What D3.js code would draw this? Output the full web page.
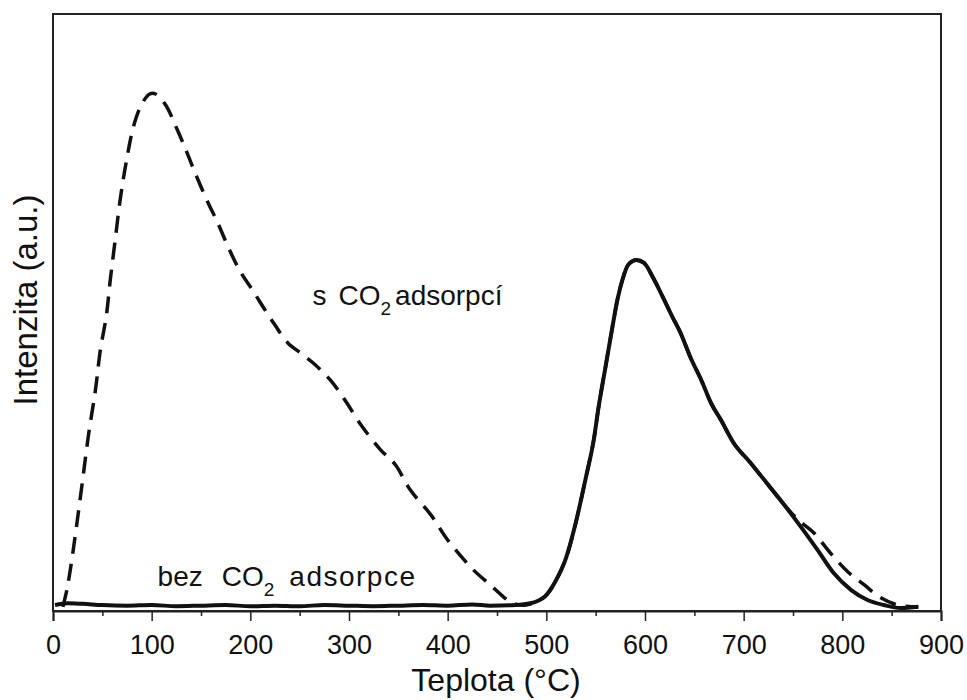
<!DOCTYPE html>
<html>
<head>
<meta charset="utf-8">
<script src="https://cdn.jsdelivr.net/npm/d3@7"></script>
<style>
  body { margin: 0; background: #fff; }
  svg { display: block; font-family: "Liberation Sans", Arial, sans-serif; }
</style>
</head>
<body>
<svg id="chart" width="967" height="700"></svg>
<script>
// temperature (°C) / intensity (a.u.)
const withCO2T = [10, 14, 19, 24, 30, 36, 43, 48, 54, 58, 63, 68, 74, 82, 90, 98, 104, 114, 126, 136, 144, 156, 167, 178, 190, 202, 215, 225, 238, 251, 264, 281, 296, 312, 332, 347, 362, 383, 400, 426, 443, 457, 466, 479,
  499, 509, 520, 530, 540, 548, 553, 560, 567, 572, 577, 583, 591, 599, 608, 618, 628, 636, 646, 657, 667, 677, 690, 707, 725, 741, 755, 771, 788, 806, 822, 839, 856, 877];
const withCO2I = [0.7, 3.5, 8.5, 14.4, 21.9, 29.5, 37.0, 43.7, 49.4, 55.4, 62.1, 68.8, 75.0, 81.4, 84.9, 86.6, 86.6, 84.8, 80.6, 76.7, 73.4, 68.8, 65.0, 60.8, 56.8, 53.8, 50.4, 47.9, 44.9, 43.2, 41.5, 38.7, 35.3, 31.2, 27.0, 24.5, 20.3, 16.1, 11.9, 6.9, 4.4, 2.3, 1.3, 1.0,
  2.5, 4.9, 8.9, 14.9, 22.3, 28.6, 34.2, 40.9, 47.6, 52.1, 55.4, 58.0, 58.8, 58.3, 55.9, 52.6, 49.2, 46.6, 42.5, 38.7, 34.8, 32.0, 28.1, 24.8, 21.1, 17.8, 15.3, 13.1, 9.7, 6.5, 4.4, 2.2, 1.0, 0.7];

const withoutCO2T = [2, 15, 30, 50, 75, 100, 125, 150, 175, 200, 225, 250, 275, 300, 325, 350, 375, 400, 425, 443, 469, 484,
  499, 509, 520, 530, 540, 548, 553, 560, 567, 572, 577, 583, 591, 599, 608, 618, 628, 636, 646, 657, 667, 677, 690, 707, 725, 741, 758, 775, 791, 809, 826, 842, 859, 877];
const withoutCO2I = [1.0, 1.3, 1.2, 1.0, 0.9, 1.0, 0.8, 0.9, 1.0, 0.8, 0.9, 0.8, 1.0, 0.9, 0.8, 0.9, 1.0, 0.9, 1.1, 0.9, 1.0, 1.3,
  2.5, 4.9, 8.9, 14.9, 22.3, 28.6, 34.2, 40.9, 47.6, 52.1, 55.4, 58.0, 58.8, 58.3, 55.9, 52.6, 49.2, 46.6, 42.5, 38.7, 34.8, 32.0, 28.1, 24.8, 21.1, 17.8, 14.1, 10.2, 6.4, 3.5, 1.8, 1.0, 0.5, 0.7];

const majorTicks = [0, 100, 200, 300, 400, 500, 600, 700, 800, 900];
const minorTicks = [50, 150, 250, 350, 450, 550, 650, 750, 850];

const svg = d3.select("#chart");
const plotLeft = 53, plotRight = 941, plotTop = 14, plotBottom = 611;

const x = d3.scaleLinear().domain([0, 900]).range([plotLeft, plotRight]);
const y = d3.scaleLinear().domain([0, 100]).range([plotBottom, plotTop]);

// frame
svg.append("rect")
  .attr("x", plotLeft).attr("y", plotTop)
  .attr("width", plotRight - plotLeft).attr("height", plotBottom - plotTop)
  .attr("fill", "none").attr("stroke", "#222").attr("stroke-width", 2);

// x axis, major and minor ticks
const xAxis = svg.append("g")
  .attr("transform", `translate(0,${plotBottom})`)
  .call(d3.axisBottom(x).tickValues(majorTicks).tickSize(10).tickPadding(14).tickFormat(d3.format("d")));
xAxis.select(".domain").attr("stroke", "#222").attr("stroke-width", 2);
xAxis.selectAll(".tick line").attr("stroke", "#222").attr("stroke-width", 1.5);
xAxis.selectAll(".tick text").attr("font-size", 27).attr("fill", "#111")
  .attr("font-family", '"Liberation Sans", Arial, sans-serif');

svg.append("g")
  .attr("transform", `translate(0,${plotBottom})`)
  .call(d3.axisBottom(x).tickValues(minorTicks).tickSize(5).tickFormat(""))
  .call(g => g.select(".domain").remove())
  .selectAll(".tick line").attr("stroke", "#222").attr("stroke-width", 1.5);

// axis titles
svg.append("text")
  .attr("x", 496).attr("y", 691)
  .attr("text-anchor", "middle").attr("font-size", 32).attr("fill", "#111")
  .text("Teplota (°C)");

svg.append("text")
  .attr("transform", "translate(37,300) rotate(-90)")
  .attr("text-anchor", "middle").attr("font-size", 33).attr("fill", "#111")
  .text("Intenzita (a.u.)");

const line = d3.line().x(d => x(d[0])).y(d => y(d[1])).curve(d3.curveMonotoneX);

// without CO2 adsorption: solid
svg.append("path")
  .datum(d3.zip(withoutCO2T, withoutCO2I))
  .attr("d", line)
  .attr("fill", "none").attr("stroke", "#111").attr("stroke-width", 4)
  .attr("stroke-linejoin", "round");

// with CO2 adsorption: dashed
svg.append("path")
  .datum(d3.zip(withCO2T, withCO2I))
  .attr("d", d3.line().x(d => x(d[0])).y(d => y(d[1])).curve(d3.curveCatmullRom))
  .attr("fill", "none").attr("stroke", "#111").attr("stroke-width", 3.5)
  .attr("stroke-dasharray", "17,10");

// labels
function co2Label(t, i, before, after, gap1, gap2, spacing) {
  const txt = svg.append("text")
    .attr("x", x(t)).attr("y", y(i))
    .attr("font-size", 28).attr("fill", "#111");
  txt.append("tspan").text(before);
  txt.append("tspan").attr("dx", gap1).text("CO");
  txt.append("tspan").attr("font-size", 19).attr("dy", 10).text("2");
  txt.append("tspan").attr("dx", gap2).attr("dy", -10)
    .attr("letter-spacing", spacing).text(after);
}
co2Label(263, 51.3, "s", "adsorpcí", 12, 4, 0);
co2Label(106, 4.2, "bez", "adsorpce", 19, 15, 1.5);
</script>
</body>
</html>
